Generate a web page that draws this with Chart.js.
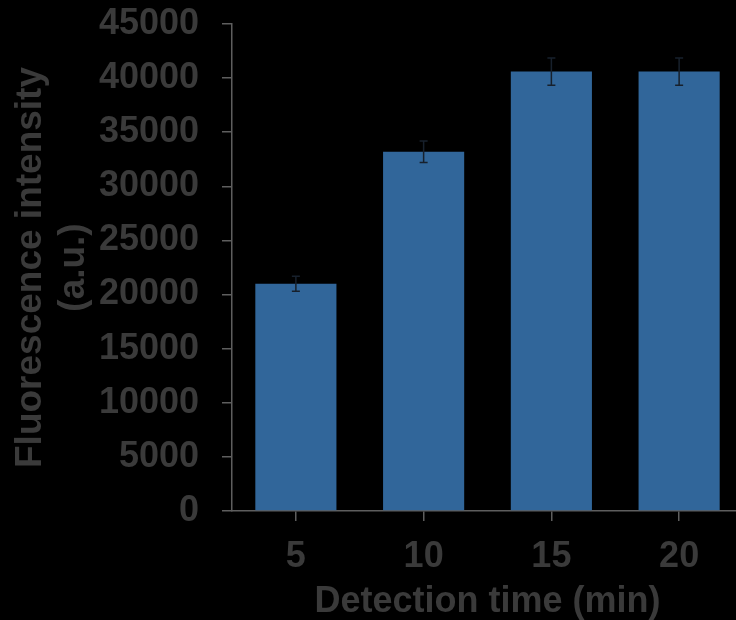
<!DOCTYPE html>
<html><head><meta charset="utf-8">
<script src="https://cdn.jsdelivr.net/npm/chart.js@4/dist/chart.umd.min.js"></script>
<style>html,body{margin:0;padding:0;background:#000;overflow:hidden;}#wrap{width:743px;height:620px;}</style>
</head><body><div id="wrap"><canvas id="c" width="743" height="620"></canvas></div>
<script>
const categories = ['5', '10', '15', '20'];
const values = [21000, 33200, 40600, 40600];
const errors = [700, 1000, 1250, 1250];
const yTicks = [0, 5000, 10000, 15000, 20000, 25000, 30000, 35000, 40000, 45000];
const xTitle = 'Detection time (min)';
const yTitle = ['Fluorescence intensity', '(a.u.)'];

const textColor = '#3a3a3a';
const axisColor = '#5e5e5e';
const FONT = '"Liberation Sans", Arial, sans-serif';

const errorBars = {
  id: 'errorBars',
  afterDatasetsDraw(chart) {
    const ctx = chart.ctx, y = chart.scales.y;
    const meta = chart.getDatasetMeta(0);
    ctx.save();
    ctx.strokeStyle = '#17202c';
    ctx.lineWidth = 1.5;
    meta.data.forEach((bar, i) => {
      const top = y.getPixelForValue(values[i] + errors[i]);
      const bot = y.getPixelForValue(values[i] - errors[i]);
      const x = bar.x;
      ctx.beginPath();
      ctx.moveTo(x, top); ctx.lineTo(x, bot);
      ctx.moveTo(x - 4, top); ctx.lineTo(x + 4, top);
      ctx.moveTo(x - 4, bot); ctx.lineTo(x + 4, bot);
      ctx.stroke();
    });
    ctx.restore();
  }
};

new Chart(document.getElementById('c'), {
  type: 'bar',
  data: {
    labels: categories,
    datasets: [{
      data: values,
      backgroundColor: '#31669a',
      borderWidth: 0,
      categoryPercentage: 1,
      barPercentage: 0.635
    }]
  },
  options: {
    responsive: false,
    animation: false,
    devicePixelRatio: 1,
    layout: { padding: { left: 0, right: 0, top: 24, bottom: 0 } },
    plugins: { legend: { display: false }, tooltip: { enabled: false } },
    scales: {
      x: {
        grid: { display: true, drawOnChartArea: false, offset: false, tickLength: 10, color: axisColor, lineWidth: 1.5 },
        border: { display: true, color: axisColor, width: 1.5 },
        ticks: { color: textColor, font: { family: FONT, size: 36, weight: 'bold' }, padding: 14, maxRotation: 0 },
        title: { display: true, text: xTitle, color: textColor, font: { family: FONT, size: 36, weight: 'bold', lineHeight: 1 }, padding: { top: 0, bottom: 0 } },
        afterFit(s) { s.height = 109; s.paddingLeft = 0; s.paddingRight = 0; }
      },
      y: {
        min: 0, max: 45000,
        afterBuildTicks(s) { s.ticks = yTicks.map(v => ({ value: v })); },
        grid: { display: true, drawOnChartArea: false, tickLength: 10, color: axisColor, lineWidth: 1.5 },
        border: { display: true, color: axisColor, width: 1.5 },
        ticks: { color: textColor, font: { family: FONT, size: 36, weight: 'bold' }, padding: 23, callback: v => String(v) },
        title: { display: true, text: yTitle, color: textColor, font: { family: FONT, size: 37, weight: 'bold', lineHeight: 1.17 }, padding: { top: 9, bottom: 0 } },
        afterFit(s) { s.width = 232; s.paddingTop = 0; s.paddingBottom = 0; }
      }
    }
  },
  plugins: [errorBars]
});
</script></body></html>
